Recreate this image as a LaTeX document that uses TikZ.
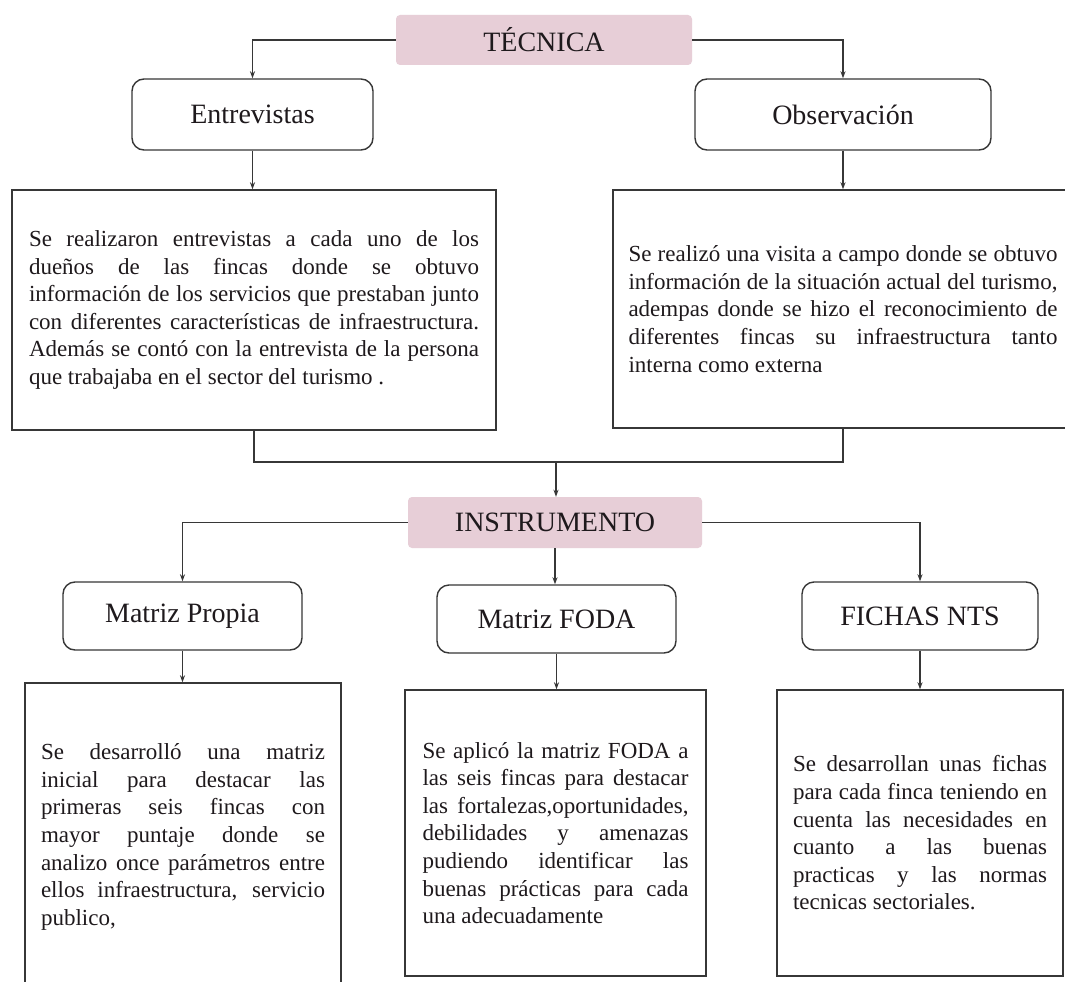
\documentclass[tikz,border=0pt]{standalone}
\usepackage{fontspec}
\setmainfont{Liberation Serif}
\usetikzlibrary{arrows.meta}
\definecolor{pinkfill}{RGB}{231,206,215}
\definecolor{linecol}{RGB}{55,55,55}
\definecolor{txtcol}{RGB}{30,25,28}
\tikzset{
  pinkbox/.style={fill=pinkfill, draw=none, rounded corners=4pt, text=txtcol,
    font=\fontsize{28pt}{32pt}\selectfont, inner sep=0pt},
  roundbox/.style={draw=linecol, line width=1.4pt, rounded corners=12pt, fill=white,
    text=txtcol, font=\fontsize{28pt}{32pt}\selectfont, inner sep=0pt},
  textbox/.style={draw=linecol, line width=1.4pt, fill=white, text=txtcol,
    font=\fontsize{23pt}{27.6pt}\selectfont, align=justify, inner ysep=0pt},
  arr/.style={draw=linecol, line width=1.3pt, -{Stealth[length=7pt,width=5pt]}},
  conn/.style={draw=linecol, line width=1.3pt}
}
\newcommand{\jpar}{\tolerance=10000\hyphenpenalty=10000\exhyphenpenalty=10000\emergencystretch=20pt}
\begin{document}
\begin{tikzpicture}[x=1pt,y=-1pt]
\useasboundingbox (0,0) rectangle (1065,982);
\fill[white] (0,0) rectangle (1065,982);

% top level
\node[pinkbox, minimum width=296pt, minimum height=50pt] (tec) at (544,40) {TÉCNICA};
\node[roundbox, minimum width=241pt, minimum height=71pt] (ent) at (252.5,114.5) {Entrevistas};
\node[roundbox, minimum width=296pt, minimum height=71pt] (obs) at (843,114.5) {Observación};

\node[textbox, minimum width=484pt, minimum height=240pt, text width=450pt] (lt) at (254,310)
 {\jpar Se realizaron entrevistas a cada uno de los\linebreak
 dueños de las fincas donde se obtuvo\linebreak
 información de los servicios que prestaban junto\linebreak
 con diferentes características de infraestructura.\linebreak
 Además se contó con la entrevista de la persona\linebreak
 que trabajaba en el sector del turismo .};

\node[textbox, minimum width=460pt, minimum height=238pt, text width=429pt] (rt) at (843,309)
 {\jpar Se realizó una visita a campo donde se obtuvo\linebreak
 información de la situación actual del turismo,\linebreak
 adempas donde se hizo el reconocimiento de\linebreak
 diferentes fincas su infraestructura tanto\linebreak
 interna como externa};

\coordinate (m) at (556,462);

% second level
\node[pinkbox, minimum width=294pt, minimum height=51pt] (ins) at (555,522.5) {INSTRUMENTO};
\node[roundbox, minimum width=239pt, minimum height=68pt] (mp) at (182.5,616) {Matriz Propia};
\node[roundbox, minimum width=239pt, minimum height=68pt] (mf) at (556.5,619) {Matriz FODA};
\node[roundbox, minimum width=236pt, minimum height=68pt] (fn) at (920,616) {FICHAS NTS};

\node[textbox, minimum width=316pt, minimum height=308pt, text width=284pt] (bl) at (183,837)
 {\jpar Se desarrolló una matriz\linebreak
 inicial para destacar las\linebreak
 primeras seis fincas con\linebreak
 mayor puntaje donde se\linebreak
 analizo once parámetros entre\linebreak
 ellos infraestructura, servicio\linebreak
 publico,};

\node[textbox, minimum width=301pt, minimum height=286pt, text width=266pt] (bm) at (555.5,833)
 {\jpar Se aplicó la matriz FODA a\linebreak
 las seis fincas para destacar\linebreak
 las fortalezas,oportunidades,\linebreak
 debilidades y amenazas\linebreak
 pudiendo identificar las\linebreak
 buenas prácticas para cada\linebreak
 una adecuadamente};

\node[textbox, minimum width=286pt, minimum height=286pt, text width=254pt] (br) at (920,833)
 {\jpar Se desarrollan unas fichas\linebreak
 para cada finca teniendo en\linebreak
 cuenta las necesidades en\linebreak
 cuanto a las buenas\linebreak
 practicas y las normas\linebreak
 tecnicas sectoriales.};

% connectors
\draw[arr] (tec.west) -| (ent.north);
\draw[arr] (tec.east) -| (obs.north);
\draw[arr] (ent.south) -- (ent.south |- lt.north);
\draw[arr] (obs.south) -- (rt.north);
\draw[conn] (lt.south) |- (m) -| (obs.south |- rt.south);
\draw[arr] (m) -- (m |- ins.north);
\draw[arr] (ins.west) -| (mp.north);
\draw[arr] (ins.east) -| (fn.north);
\draw[arr] (ins.south) -- (ins.south |- mf.north);
\draw[arr] (mp.south) -- (mp.south |- bl.north);
\draw[arr] (mf.south) -- (mf.south |- bm.north);
\draw[arr] (fn.south) -- (br.north);
\end{tikzpicture}
\end{document}
